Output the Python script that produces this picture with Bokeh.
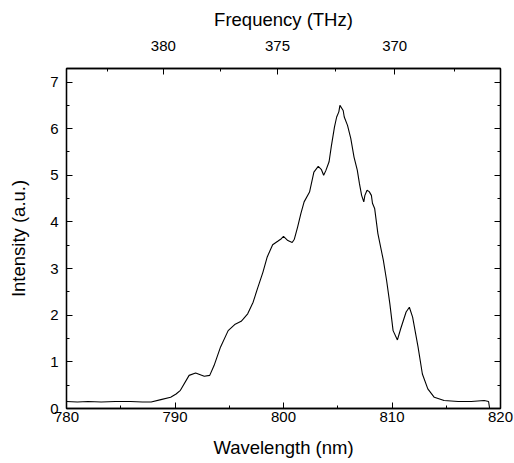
from bokeh.plotting import figure
from bokeh.models import (LinearAxis, SingleIntervalTicker, FixedTicker,
                          CustomJSTickFormatter, Range1d)
from bokeh.embed import file_html
from bokeh.resources import INLINE

# Spectrum
wavelength_nm = [780.0, 781.0, 782.0, 783.2, 784.5, 785.9, 787.0, 787.8, 788.7,
                 789.6, 790.1, 790.5, 791.3, 791.9, 792.7, 793.2, 793.6, 794.2,
                 794.9, 795.5, 796.1, 796.3, 796.7, 797.2, 797.6, 798.1, 798.5,
                 799.0, 799.5, 799.8, 800.0, 800.4, 800.8, 801.0, 801.3, 801.6,
                 801.9, 802.4, 802.8, 803.2, 803.5, 803.7, 803.9, 804.2, 804.4,
                 804.7, 804.9, 805.1, 805.2, 805.5, 805.6, 805.9, 806.2, 806.5,
                 806.8, 807.0, 807.2, 807.4, 807.5, 807.7, 807.9, 808.1, 808.2,
                 808.4, 808.7, 809.2, 809.5, 809.8, 810.1, 810.5, 810.8, 811.3,
                 811.6, 811.9, 812.4, 812.8, 813.3, 813.9, 814.8, 816.1, 817.3,
                 818.5, 818.9, 819.0]
intensity = [0.15, 0.14, 0.15, 0.14, 0.15, 0.15, 0.14, 0.14, 0.19,
             0.24, 0.31, 0.39, 0.71, 0.76, 0.69, 0.71, 0.92, 1.32,
             1.67, 1.80, 1.87, 1.92, 2.03, 2.28, 2.57, 2.92, 3.25,
             3.51, 3.59, 3.64, 3.69, 3.60, 3.56, 3.63, 3.89, 4.18,
             4.43, 4.64, 5.07, 5.19, 5.12, 5.00, 5.10, 5.29, 5.61,
             6.04, 6.25, 6.36, 6.50, 6.39, 6.25, 6.07, 5.79, 5.39,
             5.11, 4.82, 4.57, 4.43, 4.57, 4.68, 4.65, 4.57, 4.40,
             4.29, 3.75, 3.18, 2.75, 2.25, 1.67, 1.47, 1.71, 2.07,
             2.17, 1.96, 1.32, 0.74, 0.42, 0.24, 0.17, 0.15, 0.15,
             0.17, 0.15, 0.0]

freq_major_THz = [380, 375, 370]
freq_minor_THz = [382.5, 377.5, 372.5, 367.5]

C_NM_THZ = 299792.458

FONT = "Liberation Sans"

p = figure(width=514, height=463, output_backend="svg", toolbar_location=None,
           x_range=Range1d(780, 820), y_range=Range1d(0, 7.29),
           min_border_left=66, min_border_right=14, min_border_top=68,
           min_border_bottom=55, background_fill_color="white",
           border_fill_color="white")
p.grid.visible = False
p.outline_line_color = "black"
p.outline_line_width = 1.3

p.line(wavelength_nm, intensity, line_color="black", line_width=1.1)

def style(ax):
    ax.axis_line_color = "black"
    ax.axis_line_width = 1.3
    ax.major_tick_in = 6
    ax.major_tick_out = 0
    ax.minor_tick_in = 3
    ax.minor_tick_out = 0
    ax.major_tick_line_color = "black"
    ax.minor_tick_line_color = "black"
    ax.major_label_text_font = FONT
    ax.major_label_text_font_size = "15px"
    ax.major_label_text_color = "black"
    ax.axis_label_text_font = FONT
    ax.axis_label_text_font_size = "18.5px"
    ax.axis_label_text_font_style = "normal"
    ax.axis_label_text_color = "black"

xa = p.xaxis[0]
xa.ticker = SingleIntervalTicker(interval=10, num_minor_ticks=2)
xa.axis_label = "Wavelength (nm)"
style(xa)
xa.major_label_standoff = 3
xa.axis_label_standoff = 12

ya = p.yaxis[0]
ya.ticker = SingleIntervalTicker(interval=1, num_minor_ticks=2)
ya.axis_label = "Intensity (a.u.)"
style(ya)
ya.major_label_standoff = 8
ya.axis_label_standoff = 18

top = LinearAxis(axis_label="Frequency (THz)")
top.ticker = FixedTicker(ticks=[C_NM_THZ / f for f in freq_major_THz],
                         minor_ticks=[C_NM_THZ / f for f in freq_minor_THz])
top.formatter = CustomJSTickFormatter(code="return (299792.458 / tick).toFixed(0);")
style(top)
top.major_label_standoff = 18
top.axis_label_standoff = 8
p.add_layout(top, "above")

right = LinearAxis()
right.ticker = SingleIntervalTicker(interval=1, num_minor_ticks=2)
style(right)
right.major_label_text_font_size = "1px"
right.major_label_standoff = 0
right.major_label_text_color = "white"
right.major_label_text_alpha = 0
p.add_layout(right, "right")

open("out.html", "w").write(file_html(p, INLINE))
